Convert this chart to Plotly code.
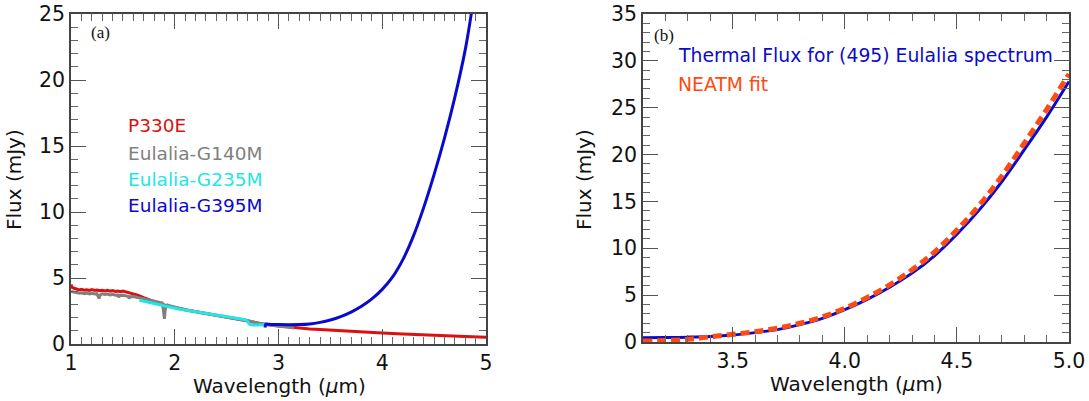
import plotly.graph_objects as go

W, H = 1089, 401

# ---------------- Panel (a) data ----------------
p330e_x = [1.00, 1.01, 1.03, 1.05, 1.08, 1.10, 1.13, 1.15, 1.18, 1.20, 1.23, 1.25, 1.28, 1.30, 1.33,
           1.35, 1.38, 1.40, 1.43, 1.45, 1.48, 1.50, 1.53, 1.55, 1.58, 1.60, 1.65, 1.70, 1.75, 1.80,
           1.85, 1.90, 1.95, 2.00, 2.10, 2.20, 2.30, 2.40, 2.50, 2.60, 2.70, 2.75, 2.80, 2.90, 3.00,
           3.10, 3.20, 3.30, 3.40, 3.50, 3.60, 3.70, 3.80, 3.90, 4.00, 4.20, 4.40, 4.60, 4.80, 5.00]
p330e_y = [4.50, 4.30, 4.22, 4.18, 4.10, 4.14, 4.08, 4.11, 4.06, 4.12, 4.05, 4.09, 4.03, 4.07, 4.02,
           4.06, 4.00, 4.05, 3.98, 4.02, 3.96, 4.01, 3.94, 3.93, 3.88, 3.82, 3.68, 3.52, 3.36, 3.22,
           3.08, 2.96, 2.85, 2.76, 2.60, 2.46, 2.32, 2.19, 2.06, 1.93, 1.78, 1.70, 1.60, 1.45, 1.36,
           1.28, 1.20, 1.14, 1.09, 1.04, 0.99, 0.95, 0.91, 0.87, 0.83, 0.76, 0.68, 0.62, 0.56, 0.51]

g140m_x = [1.00, 1.03, 1.05, 1.08, 1.10, 1.13, 1.15, 1.18, 1.20, 1.23, 1.25, 1.26, 1.27, 1.28, 1.30,
           1.33, 1.35, 1.38, 1.40, 1.43, 1.45, 1.46, 1.47, 1.50, 1.53, 1.55, 1.56, 1.57, 1.60, 1.65,
           1.70, 1.75, 1.80, 1.85, 1.88, 1.89, 1.90, 1.91, 1.93, 1.95, 2.00, 2.10, 2.20, 2.30, 2.40,
           2.50, 2.60, 2.70, 2.80, 2.90, 3.00, 3.10, 3.15]
g140m_y = [3.98, 3.92, 3.90, 3.84, 3.88, 3.82, 3.86, 3.80, 3.84, 3.79, 3.82, 3.66, 3.45, 3.70, 3.80,
           3.76, 3.78, 3.72, 3.76, 3.70, 3.72, 3.55, 3.68, 3.70, 3.64, 3.62, 3.45, 3.58, 3.60, 3.52,
           3.42, 3.33, 3.25, 3.15, 3.10, 2.60, 1.90, 2.70, 2.95, 2.90, 2.78, 2.60, 2.45, 2.32, 2.18,
           2.06, 1.92, 1.78, 1.58, 1.44, 1.34, 1.26, 1.22]

g235m_x = [1.66, 1.70, 1.75, 1.80, 1.85, 1.90, 1.95, 2.00, 2.05, 2.10, 2.15, 2.20, 2.25, 2.30, 2.35,
           2.40, 2.45, 2.50, 2.55, 2.60, 2.65, 2.68, 2.70, 2.72, 2.75, 2.80, 2.85, 2.87]
g235m_y = [3.32, 3.25, 3.15, 3.08, 2.98, 2.88, 2.78, 2.70, 2.64, 2.58, 2.52, 2.46, 2.40, 2.35, 2.29,
           2.23, 2.16, 2.10, 2.03, 1.96, 1.88, 1.84, 1.72, 1.50, 1.43, 1.42, 1.44, 1.45]

g395m_x = [2.870, 2.875, 2.88, 2.90, 3.00, 3.10, 3.20, 3.30, 3.40, 3.50, 3.60, 3.70, 3.80, 3.90,
           4.00, 4.10, 4.20, 4.30, 4.40, 4.50, 4.60, 4.70, 4.80, 4.85, 4.88]
g395m_y = [1.25, 1.45, 1.52, 1.50, 1.47, 1.46, 1.47, 1.52, 1.64, 1.82, 2.08, 2.42, 2.86, 3.42,
           4.14, 5.08, 6.41, 8.17, 10.35, 12.85, 15.6, 18.7, 22.3, 24.6, 26.2]

# ---------------- Panel (b) data ----------------
thermal_x = [3.1, 3.2, 3.3, 3.4, 3.5, 3.6, 3.7, 3.8, 3.9, 4.0, 4.1, 4.2, 4.3, 4.4, 4.5, 4.6, 4.7, 4.8, 4.9, 5.0]
thermal_y = [0.45, 0.47, 0.52, 0.60, 0.75, 1.00, 1.32, 1.85, 2.52, 3.45, 4.55, 5.85, 7.35, 9.20, 11.5,
             14.1, 17.1, 20.5, 24.0, 27.8]
neatm_x = [3.1, 3.2, 3.3, 3.4, 3.5, 3.6, 3.7, 3.8, 3.9, 4.0, 4.1, 4.2, 4.3, 4.4, 4.5, 4.6, 4.7, 4.8, 4.9, 5.0]
neatm_y = [0.10, 0.15, 0.28, 0.55, 0.82, 1.10, 1.47, 2.00, 2.68, 3.60, 4.75, 6.10, 7.70, 9.60, 11.95,
           14.6, 17.7, 21.2, 24.8, 28.6]

left_labels = ["P330E", "Eulalia-G140M", "Eulalia-G235M", "Eulalia-G395M"]
right_labels = ["Thermal Flux for (495) Eulalia spectrum", "NEATM fit"]

RED = "#dd1010"
GRAY = "#808080"
CYAN = "#22e6e6"
BLUE = "#0a0acc"
ORANGE = "#ff4a10"

FONT = "DejaVu Sans"

fig = go.Figure()
fig.add_trace(go.Scatter(x=p330e_x, y=p330e_y, mode="lines", line=dict(color=RED, width=3),
                         xaxis="x", yaxis="y", showlegend=False))
fig.add_trace(go.Scatter(x=g140m_x, y=g140m_y, mode="lines", line=dict(color=GRAY, width=3),
                         xaxis="x", yaxis="y", showlegend=False))
fig.add_trace(go.Scatter(x=g235m_x, y=g235m_y, mode="lines", line=dict(color=CYAN, width=3),
                         xaxis="x", yaxis="y", showlegend=False))
fig.add_trace(go.Scatter(x=g395m_x, y=g395m_y, mode="lines", line=dict(color=BLUE, width=3, shape="spline"),
                         xaxis="x", yaxis="y", showlegend=False))

fig.add_trace(go.Scatter(x=thermal_x, y=thermal_y, mode="lines", line=dict(color=BLUE, width=3, shape="spline"),
                         xaxis="x2", yaxis="y2", showlegend=False))
fig.add_trace(go.Scatter(x=neatm_x, y=neatm_y, mode="lines",
                         line=dict(color=ORANGE, width=5, dash="9px,5px", shape="spline"),
                         xaxis="x2", yaxis="y2", showlegend=False))


def px(x):
    return x / W


def py(y):
    return 1 - y / H


axis_common = dict(
    showline=True, linecolor="#444444", linewidth=1.5, mirror="allticks",
    ticks="inside", ticklen=15, tickwidth=1.2, tickcolor="#555555",
    showgrid=False, zeroline=False, automargin=False,
    tickfont=dict(family=FONT, size=20.5, color="#111111"),
)

fig.update_layout(
    width=W, height=H,
    margin=dict(l=0, r=0, t=0, b=0, autoexpand=False),
    paper_bgcolor="white", plot_bgcolor="white",
    xaxis=dict(domain=[px(71), px(486)], range=[1, 5], dtick=1, anchor="y",
               minor=dict(dtick=0.1, ticklen=7, ticks="inside", tickcolor="#666666", tickwidth=1.2),
               **axis_common),
    yaxis=dict(domain=[py(344), py(14)], range=[0, 25], dtick=5, anchor="x",
               minor=dict(dtick=1, ticklen=7, ticks="inside", tickcolor="#666666", tickwidth=1.2),
               **axis_common),
    xaxis2=dict(domain=[px(643), px(1069)], range=[3.1, 5.0], tick0=3.5, dtick=0.5, tickformat=".1f",
                anchor="y2",
                minor=dict(tick0=3.1, dtick=0.1, ticklen=7, ticks="inside", tickcolor="#666666", tickwidth=1.2),
                **axis_common),
    yaxis2=dict(domain=[py(342), py(14)], range=[0, 35], dtick=5, anchor="x2",
                minor=dict(dtick=1, ticklen=7, ticks="inside", tickcolor="#666666", tickwidth=1.2),
                **axis_common),
)

ann = []


def add_text(text, x, y, size, color="#111111", family=FONT, xanchor="center", angle=0):
    ann.append(dict(text=text, x=px(x), y=py(y), xref="paper", yref="paper",
                    xanchor=xanchor, yanchor="middle", textangle=angle, showarrow=False,
                    font=dict(family=family, size=size, color=color)))


# axis titles
add_text("Wavelength (<i>μ</i>m)", 279, 386, 20)
add_text("Wavelength (<i>μ</i>m)", 856, 384, 20)
add_text("Flux (mJy)", 14, 180, 20, angle=-90)
add_text("Flux (mJy)", 584, 180, 20, angle=-90)
# panel labels
add_text("(a)", 89, 33, 17, family="Liberation Serif", xanchor="left")
add_text("(b)", 652, 35, 17, family="Liberation Serif", xanchor="left")
# legend texts panel (a)
left_colors = [RED, GRAY, CYAN, BLUE]
left_ys = [126, 153, 179, 205]
for lab, col, yy in zip(left_labels, left_colors, left_ys):
    add_text(lab, 126, yy, 18.5, color=col, xanchor="left")
# legend texts panel (b)
right_colors = [BLUE, ORANGE]
right_ys = [55, 84]
for lab, col, yy in zip(right_labels, right_colors, right_ys):
    add_text(lab, 676, yy, 18.8, color=col, xanchor="left")

fig.update_layout(annotations=ann)

fig.write_html("out.html", config={"displayModeBar": False},
               post_script="document.body.style.margin='0';document.body.style.overflow='hidden';")
